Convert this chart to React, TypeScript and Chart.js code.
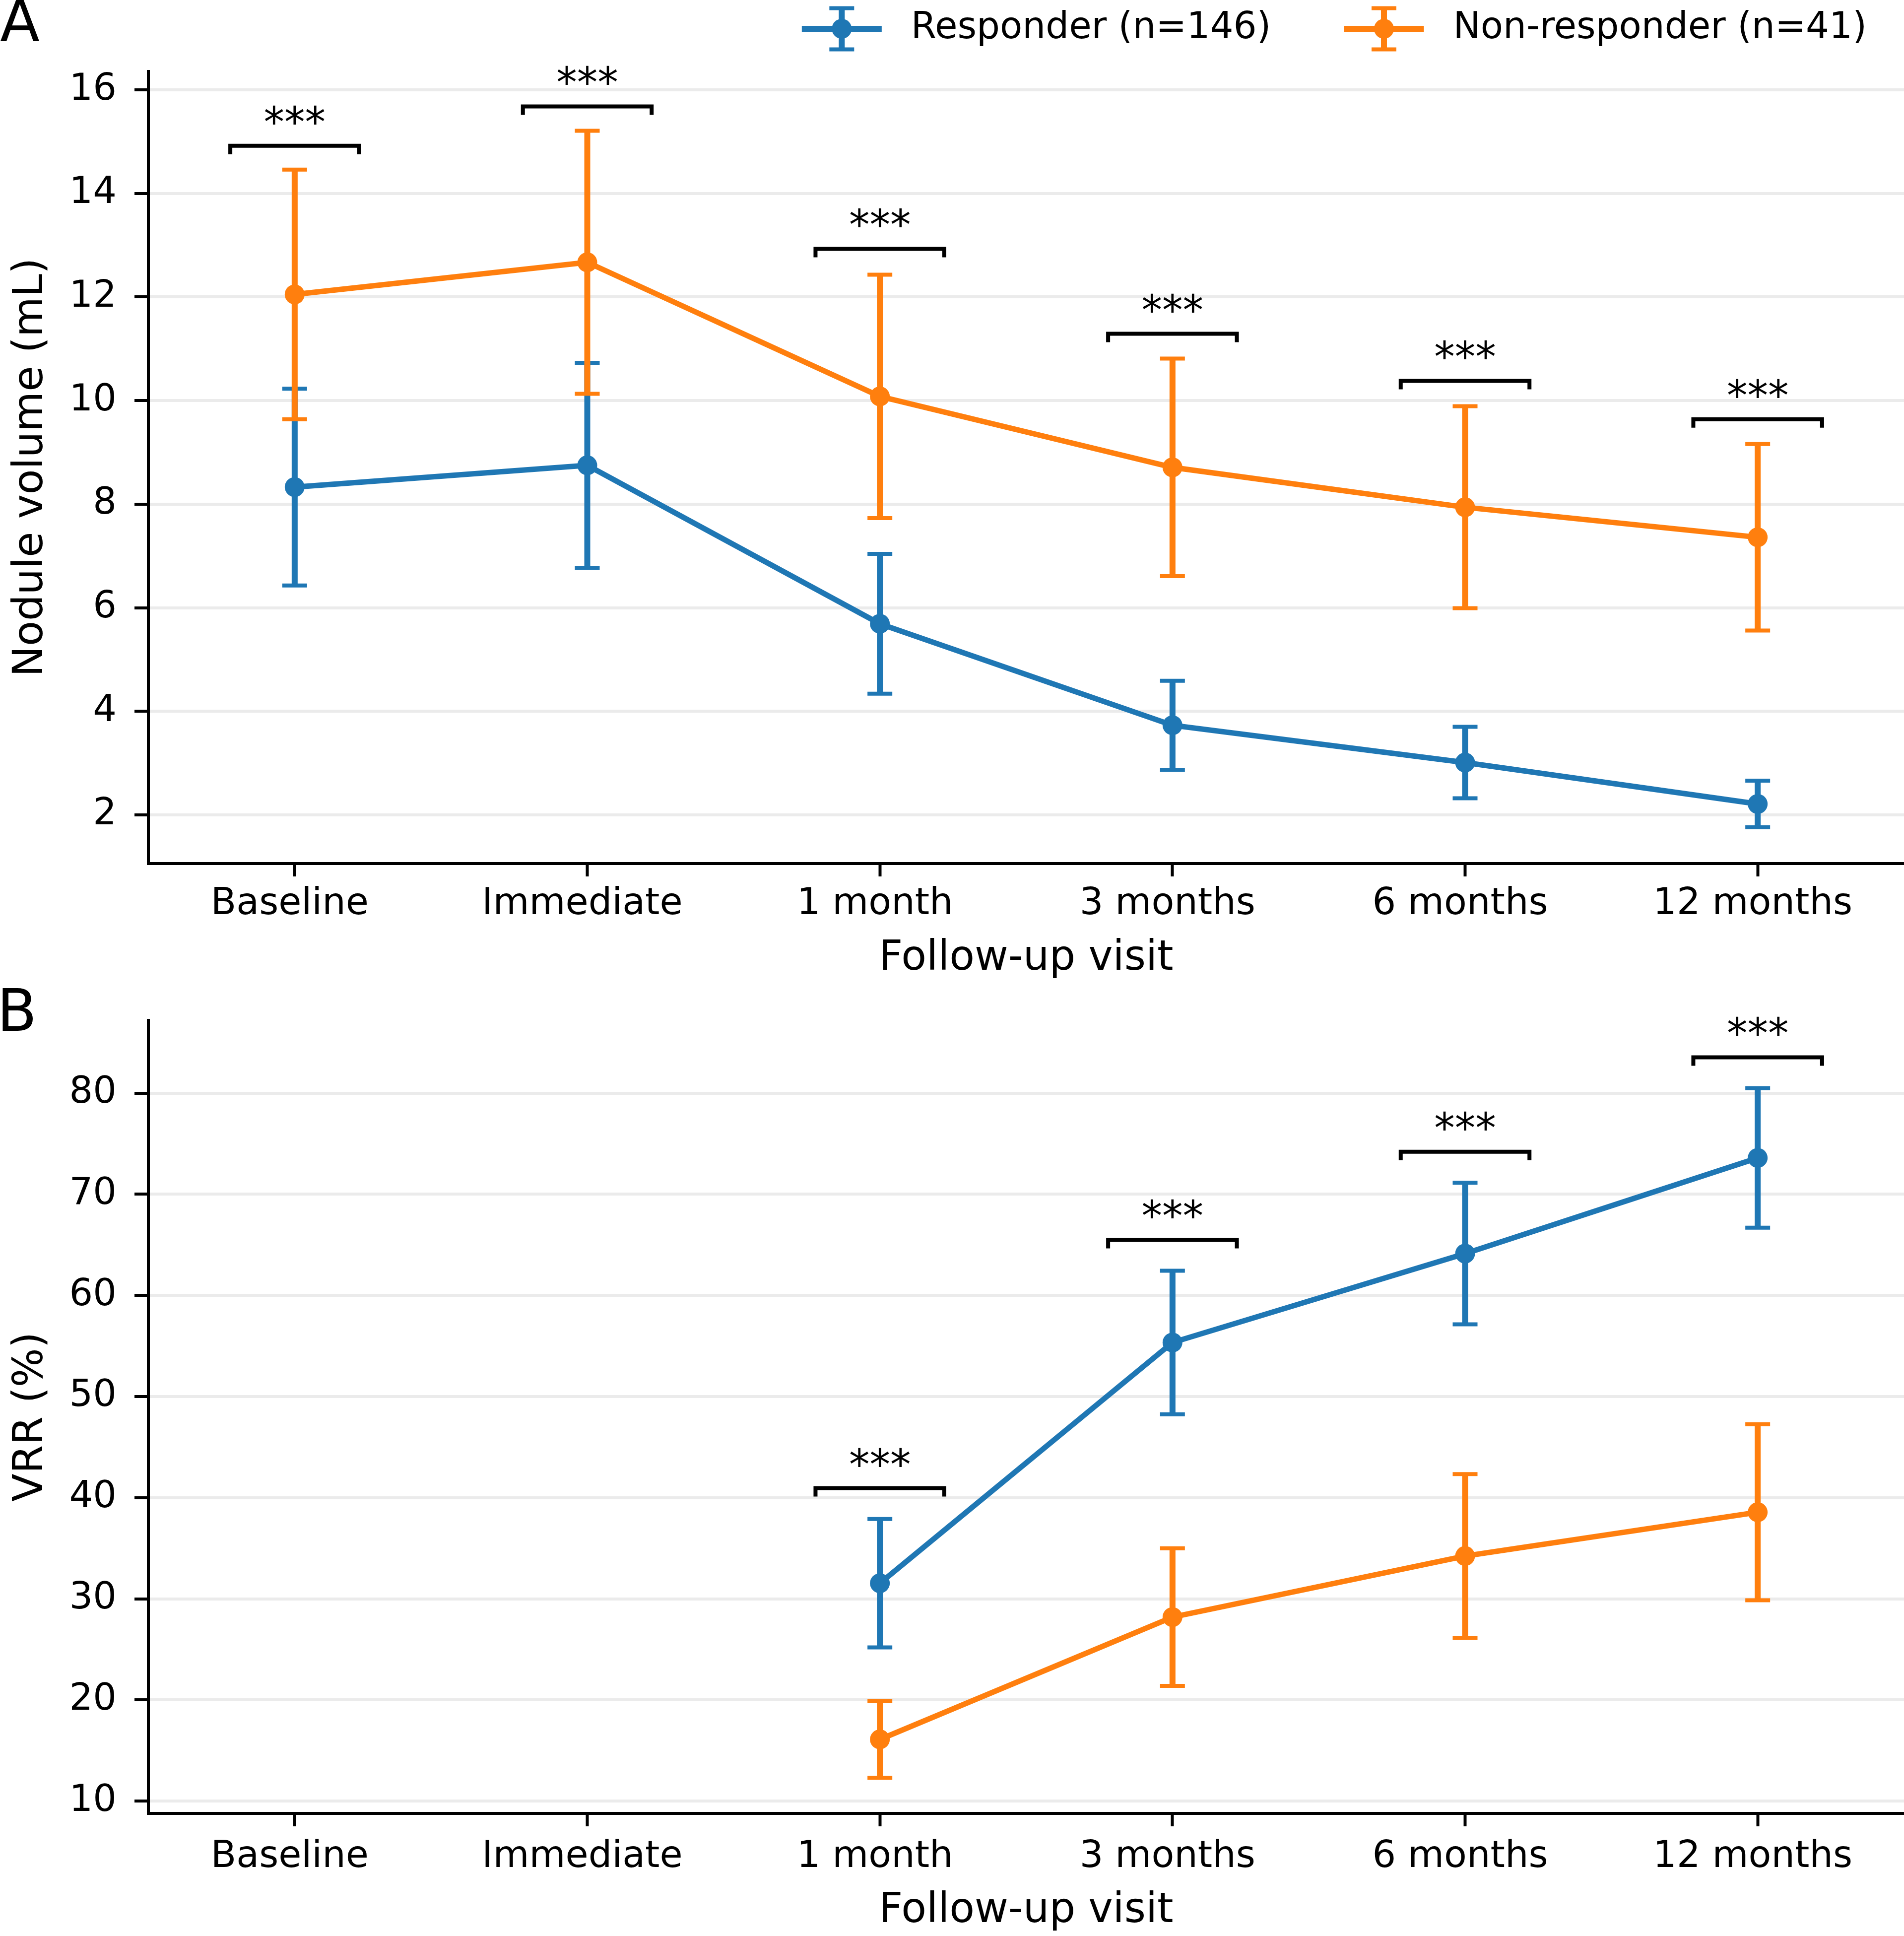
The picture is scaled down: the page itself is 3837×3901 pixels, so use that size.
import { useEffect, useRef } from "react";
import { Chart, registerables } from "chart.js";
import type { ChartConfiguration, Plugin } from "chart.js";

Chart.register(...registerables);

const FONT = "'DejaVu Sans', sans-serif";
Chart.defaults.font.family = FONT;
Chart.defaults.color = "#000";

const BLUE = "#1f77b4";
const ORANGE = "#ff7f0e";

const VISITS = ["Baseline", "Immediate", "1 month", "3 months", "6 months", "12 months"];
const SERIES_LABELS = ["Responder (n=146)", "Non-responder (n=41)"];
const SIG_LABEL = "***";

// A: nodule volume (mL), mean and error half-width
const RESP_VOL = [8.33, 8.75, 5.69, 3.73, 3.01, 2.21];
const RESP_VOL_ERR = [1.9, 1.98, 1.35, 0.86, 0.69, 0.45];
const NONRESP_VOL = [12.05, 12.67, 10.08, 8.71, 7.94, 7.36];
const NONRESP_VOL_ERR = [2.41, 2.54, 2.35, 2.1, 1.95, 1.8];
const VOL_SIG_Y = [14.92, 15.68, 12.93, 11.29, 10.38, 9.64];
const VOL_TICKS = [2, 4, 6, 8, 10, 12, 14, 16];

// B: volume reduction ratio (%)
const RESP_VRR = [null, null, 31.54, 55.34, 64.13, 73.59];
const RESP_VRR_ERR = [null, null, 6.35, 7.1, 7.0, 6.9];
const NONRESP_VRR = [null, null, 16.1, 28.19, 34.23, 38.56];
const NONRESP_VRR_ERR = [null, null, 3.8, 6.8, 8.1, 8.7];
const VRR_SIG_Y = [null, null, 40.94, 65.48, 74.2, 83.54];
const VRR_TICKS = [10, 20, 30, 40, 50, 60, 70, 80];

const W = 3837;

type Val = number | null;
type Series = { label: string; color: string; values: Val[]; errs: Val[] };
type PanelSpec = {
  letter: string;
  letterX: number;
  letterY: number;
  yTitle: string;
  ticks: number[];
  min: number;
  max: number;
  series: Series[];
  sigY: Val[];
  height: number;
  padTop: number;
  xHeight: number;
  xTickPad: number;
  xTitlePad: number;
  legend: boolean;
};

const PANEL_A: PanelSpec = {
  letter: "A",
  letterX: 0,
  letterY: 83,
  yTitle: "Nodule volume (mL)",
  ticks: VOL_TICKS,
  min: 1.06,
  max: 16.36,
  series: [
    { label: SERIES_LABELS[0], color: BLUE, values: RESP_VOL, errs: RESP_VOL_ERR },
    { label: SERIES_LABELS[1], color: ORANGE, values: NONRESP_VOL, errs: NONRESP_VOL_ERR },
  ],
  sigY: VOL_SIG_Y,
  height: 1985,
  padTop: 143.5,
  xHeight: 245,
  xTickPad: 12,
  xTitlePad: 3,
  legend: true,
};

const PANEL_B: PanelSpec = {
  letter: "B",
  letterX: -6,
  letterY: 92,
  yTitle: "VRR (%)",
  ticks: VRR_TICKS,
  min: 8.78,
  max: 87.19,
  series: [
    { label: SERIES_LABELS[0], color: BLUE, values: RESP_VRR, errs: RESP_VRR_ERR },
    { label: SERIES_LABELS[1], color: ORANGE, values: NONRESP_VRR, errs: NONRESP_VRR_ERR },
  ],
  sigY: VRR_SIG_Y,
  height: 1916,
  padTop: 71,
  xHeight: 247,
  xTickPad: 18,
  xTitlePad: 0,
  legend: false,
};

const LINE_W = 11;
const ERR_W = 12;
const CAP_W = 8;
const CAP_HALF = 25;
const MARKER_R = 20;

function drawErrorBar(ctx: CanvasRenderingContext2D, x: number, top: number, bot: number) {
  ctx.lineWidth = ERR_W;
  ctx.beginPath();
  ctx.moveTo(x, top);
  ctx.lineTo(x, bot);
  ctx.stroke();
  ctx.lineWidth = CAP_W;
  ctx.beginPath();
  ctx.moveTo(x - CAP_HALF, top);
  ctx.lineTo(x + CAP_HALF, top);
  ctx.moveTo(x - CAP_HALF, bot);
  ctx.lineTo(x + CAP_HALF, bot);
  ctx.stroke();
}

function errorBarPlugin(p: PanelSpec): Plugin<"line"> {
  return {
    id: "errorBars",
    // each series' error bars go just under its own line, so orange sits over blue
    beforeDatasetDraw(chart, args) {
      const s = p.series[args.index];
      const { ctx, scales } = chart;
      ctx.save();
      ctx.strokeStyle = s.color;
      ctx.lineCap = "butt";
      s.values.forEach((v, i) => {
        const e = s.errs[i];
        if (v == null || e == null) return;
        const px = scales.x.getPixelForValue(i);
        drawErrorBar(ctx, px, scales.y.getPixelForValue(v + e), scales.y.getPixelForValue(v - e));
      });
      ctx.restore();
    },
  };
}

function annotationPlugin(p: PanelSpec): Plugin<"line"> {
  return {
    id: "annotations",
    afterDatasetsDraw(chart) {
      const { ctx, scales } = chart;
      ctx.save();
      ctx.strokeStyle = "#000";
      ctx.fillStyle = "#000";
      ctx.lineWidth = 8;
      ctx.lineJoin = "miter";
      ctx.lineCap = "butt";
      ctx.font = `83px ${FONT}`;
      ctx.textAlign = "center";
      ctx.textBaseline = "alphabetic";
      p.sigY.forEach((v, i) => {
        if (v == null) return;
        const x0 = scales.x.getPixelForValue(i - 0.22);
        const x1 = scales.x.getPixelForValue(i + 0.22);
        const py = scales.y.getPixelForValue(v);
        ctx.beginPath();
        ctx.moveTo(x0, py + 17);
        ctx.lineTo(x0, py);
        ctx.lineTo(x1, py);
        ctx.lineTo(x1, py + 17);
        ctx.stroke();
        ctx.fillText(SIG_LABEL, scales.x.getPixelForValue(i), py - 19);
      });
      ctx.restore();
    },
    afterDraw(chart) {
      const { ctx } = chart;
      ctx.save();
      ctx.fillStyle = "#000";
      ctx.font = `117px ${FONT}`;
      ctx.textAlign = "left";
      ctx.textBaseline = "alphabetic";
      ctx.fillText(p.letter, p.letterX, p.letterY);

      if (p.legend) {
        ctx.font = `74px ${FONT}`;
        ctx.textBaseline = "middle";
        const cy = 58;
        let right = 3762;
        for (let k = p.series.length - 1; k >= 0; k--) {
          const s = p.series[k];
          const tw = ctx.measureText(s.label).width;
          const textX = right - tw;
          const hEnd = textX - 59;
          const hStart = hEnd - 161;
          const hx = (hStart + hEnd) / 2;
          ctx.strokeStyle = s.color;
          ctx.fillStyle = s.color;
          ctx.lineCap = "butt";
          ctx.lineWidth = 12;
          ctx.beginPath();
          ctx.moveTo(hStart, cy);
          ctx.lineTo(hEnd, cy);
          ctx.stroke();
          drawErrorBar(ctx, hx, cy - 41.5, cy + 41.5);
          ctx.beginPath();
          ctx.arc(hx, cy, MARKER_R, 0, Math.PI * 2);
          ctx.fill();
          ctx.fillStyle = "#000";
          ctx.textAlign = "left";
          ctx.fillText(s.label, textX, cy);
          right = hStart - 147;
        }
      }
      ctx.restore();
    },
  };
}

function buildConfig(p: PanelSpec): ChartConfiguration<"line", Val[], string> {
  return {
    type: "line",
    data: {
      labels: VISITS,
      datasets: p.series.map((s, i) => ({
        label: s.label,
        data: s.values,
        borderColor: s.color,
        backgroundColor: s.color,
        borderWidth: LINE_W,
        pointRadius: MARKER_R,
        pointHoverRadius: MARKER_R,
        pointBackgroundColor: s.color,
        pointBorderWidth: 0,
        tension: 0,
        spanGaps: false,
        fill: false,
        order: p.series.length - i,
      })),
    },
    options: {
      responsive: false,
      animation: false,
      events: [],
      layout: { autoPadding: false, padding: { top: p.padTop, left: 0, right: 0, bottom: 0 } },
      plugins: { legend: { display: false }, tooltip: { enabled: false } },
      scales: {
        x: {
          type: "category",
          offset: true,
          grid: { display: true, drawOnChartArea: false, drawTicks: true, tickLength: 26, tickWidth: 6, tickColor: "#000" },
          border: { display: true, color: "#000", width: 6 },
          ticks: {
            font: { size: 75 },
            color: "#000",
            padding: p.xTickPad,
            labelOffset: -10,
            maxRotation: 0,
            autoSkip: false,
          },
          title: {
            display: true,
            text: "Follow-up visit",
            font: { size: 83 },
            color: "#000",
            padding: { top: 0, bottom: p.xTitlePad },
          },
          afterFit: (s: any) => {
            s.height = p.xHeight;
            s.paddingLeft = 0;
            s.paddingRight = 0;
          },
        },
        y: {
          type: "linear",
          min: p.min,
          max: p.max,
          afterBuildTicks: (s) => {
            s.ticks = p.ticks.map((value) => ({ value }));
          },
          grid: { color: "#ebebeb", lineWidth: 6, drawTicks: true, tickLength: 28, tickWidth: 6, tickColor: "#000" },
          border: { display: true, color: "#000", width: 6 },
          ticks: { font: { size: 75 }, color: "#000", padding: 36 },
          title: { display: true, text: p.yTitle, font: { size: 83 }, color: "#000", padding: { top: 14, bottom: 0 } },
          afterFit: (s: any) => {
            s.width = 299;
            // keep tick-label overflow from pushing the plot area down
            s.paddingTop = 0;
            s.paddingBottom = 0;
          },
        },
      },
    },
    plugins: [errorBarPlugin(p), annotationPlugin(p)],
  };
}

function Panel({ spec }: { spec: PanelSpec }) {
  const canvasRef = useRef<HTMLCanvasElement | null>(null);

  useEffect(() => {
    const chart = new Chart(canvasRef.current!, buildConfig(spec));
    return () => chart.destroy();
  }, [spec]);

  return (
    <canvas
      ref={canvasRef}
      width={W}
      height={spec.height}
      style={{ display: "block", width: W, height: spec.height }}
    />
  );
}

export default function App() {
  return (
    <div style={{ position: "absolute", left: 0, top: 0, width: W, height: 3901, background: "#fff" }}>
      <Panel spec={PANEL_A} />
      <Panel spec={PANEL_B} />
    </div>
  );
}
